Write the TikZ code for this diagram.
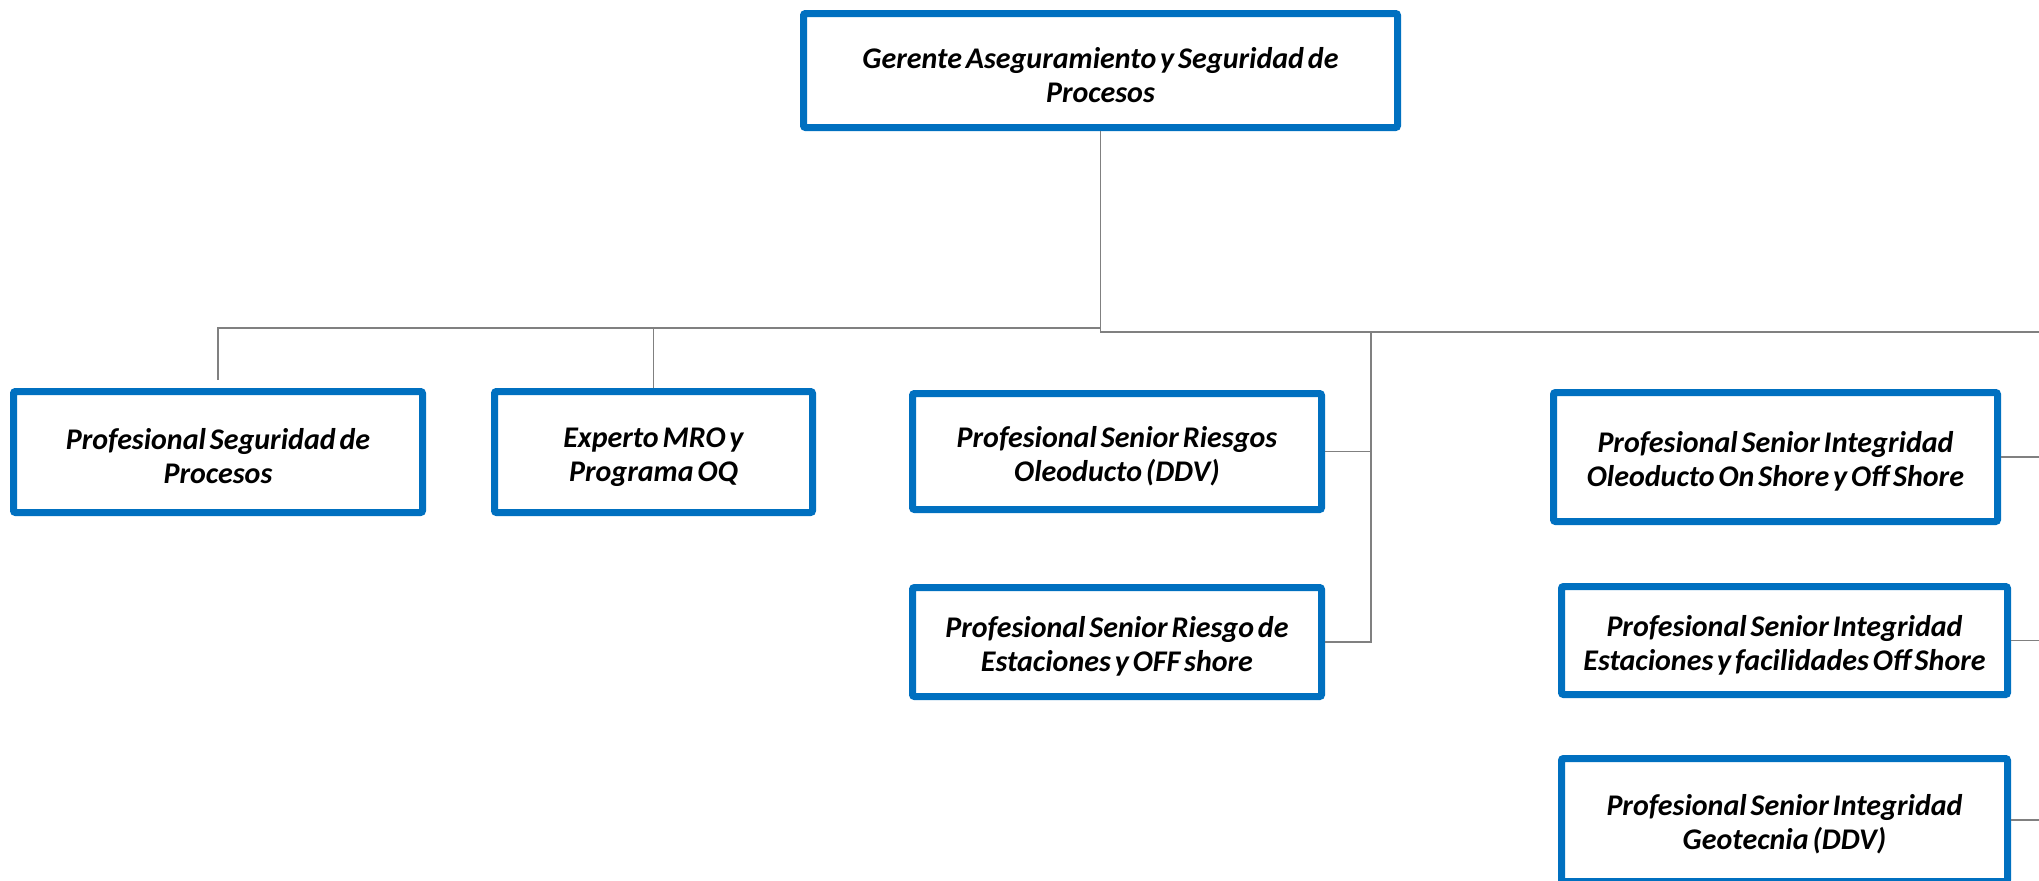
\documentclass[tikz,border=0pt]{standalone}
\usepackage{fontspec}
\setmainfont{Carlito}
\newcommand{\boxfont}{\fontsize{15}{17}\selectfont\bfseries\itshape\spaceskip=0.13em plus 0.05em\relax}
\begin{document}
\begin{tikzpicture}[x=0.5pt,y=-0.5pt,
  box/.style={draw=boxblue, line width=3.5pt, rounded corners=1pt, fill=white,
    inner sep=0pt, align=center, font=\boxfont,
    execute at begin node={\rule{0pt}{32pt}}},
  conn/.style={draw=linegray, line width=0.8pt}]
\definecolor{boxblue}{HTML}{0070C0}
\definecolor{linegray}{HTML}{808080}
\useasboundingbox (0,0) rectangle (2039,880);
\clip (0,0) rectangle (2039,880);
% nodes
\node[box, minimum width=297pt, minimum height=57pt] (top) at (1100.5,70.5)
  {Gerente Aseguramiento y Seguridad de\\Procesos};
\node[box, minimum width=204.5pt, minimum height=60.5pt] (b1) at (218,452)
  {Profesional Seguridad de\\Procesos};
\node[box, minimum width=159pt, minimum height=60.5pt] (b2) at (653.5,452)
  {Experto MRO y\\Programa OQ};
\node[box, minimum width=204.5pt, minimum height=58pt] (b3) at (1117,451.5)
  {Profesional Senior Riesgos\\Oleoducto (DDV)};
\node[box, minimum width=204.5pt, minimum height=54.5pt] (b4) at (1117,642)
  {Profesional Senior Riesgo de\\Estaciones y OFF shore};
\node[box, minimum width=222pt, minimum height=64.5pt] (b5) at (1775.5,457)
  {Profesional Senior Integridad\\Oleoducto On Shore y Off Shore};
\node[box, minimum width=223pt, minimum height=54pt] (b6) at (1784.5,640.5)
  {Profesional Senior Integridad\\Estaciones y facilidades Off Shore};
\node[box, minimum width=223pt, minimum height=61.5pt] (b7) at (1784.5,820)
  {Profesional Senior Integridad\\Geotecnia (DDV)};
% junction coordinates
\coordinate (jL) at (1101,328);
\coordinate (rEdge) at (2050,332);
\coordinate (v3) at (1371,332);
\coordinate (d1) at (218,380);
% connectors
\draw[conn] (top.south) |- (rEdge);
\draw[conn] (top.south |- jL) -| (d1);
\draw[conn] (b2.north) -- (b2.north |- jL);
\draw[conn] (v3) |- (b4.east);
\draw[conn] (b3.east) -- (b3.east -| v3);
\draw[conn] (b5.east) -- (b5.east -| rEdge);
\draw[conn] (b6.east) -- (b6.east -| rEdge);
\draw[conn] (b7.east) -- (b7.east -| rEdge);
\end{tikzpicture}
\end{document}
